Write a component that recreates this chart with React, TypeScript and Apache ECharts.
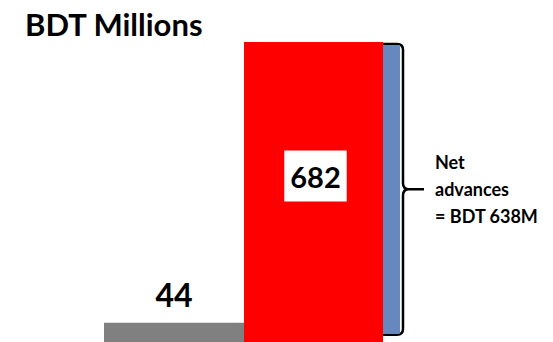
import React, { useEffect, useRef } from "react";
import * as echarts from "echarts";

const categories = ["Advances"];
const grayValues = [44];
const redValues = [682];
const blueBase = [19];
const blueValues = [656];
const netLines = ["Net", "advances", "= BDT 638M"];
const titleText = "BDT Millions";

const NUM_FONT = "Lato, 'Noto Sans', sans-serif";
const TXT_FONT = "Lato, 'Noto Sans', sans-serif";

export default function App() {
  const ref = useRef<HTMLDivElement>(null);
  useEffect(() => {
    const chart = echarts.init(ref.current!, null, { renderer: "svg" });
    chart.setOption({
      animation: false,
      grid: { left: 0, top: 42, width: 504, height: 302.5 },
      xAxis: { type: "category", data: categories, show: false },
      yAxis: { type: "value", min: 0, max: 682, show: false },
      series: [
        {
          type: "bar",
          stack: "g",
          data: grayValues,
          barWidth: 140,
          barGap: "0%",
          itemStyle: { color: "#808080" },
          label: {
            show: true,
            position: "top",
            distance: 12,
            fontFamily: NUM_FONT,
            fontWeight: "bold",
            fontSize: 32,
            lineHeight: 32,
            color: "#000",
          },
        },
        {
          type: "bar",
          stack: "r",
          data: redValues,
          barWidth: 139,
          barGap: "0%",
          itemStyle: { color: "#FF0000" },
          label: {
            show: true,
            position: "inside",
            offset: [2, -16],
            fontFamily: NUM_FONT,
            fontWeight: "bold",
            fontSize: 29,
            lineHeight: 29,
            color: "#000",
            backgroundColor: "#FFFFFF",
            padding: [11, 6, 11, 6],
          },
        },
        {
          type: "bar",
          stack: "b",
          data: blueBase,
          barWidth: 17,
          barGap: "0%",
          silent: true,
          itemStyle: { color: "rgba(0,0,0,0)" },
        },
        {
          type: "bar",
          stack: "b",
          data: blueValues,
          barWidth: 17,
          barGap: "0%",
          itemStyle: { color: "#6787BF" },
        },
      ],
    });

    const yTop = chart.convertToPixel({ yAxisIndex: 0 }, blueBase[0] + blueValues[0]) as number;
    const yBot = chart.convertToPixel({ yAxisIndex: 0 }, blueBase[0]) as number;
    const yMid = (yTop + yBot) / 2;
    const x0 = 383;
    const xv = 403;
    const xt = 424;
    const d =
      `M${x0},${yTop - 1} L${xv - 6},${yTop - 1} Q${xv},${yTop - 1} ${xv},${yTop + 5} ` +
      `L${xv},${yMid - 6} Q${xv},${yMid} ${xv + 6},${yMid} L${xt},${yMid} ` +
      `M${xv + 6},${yMid} Q${xv},${yMid} ${xv},${yMid + 6} ` +
      `L${xv},${yBot - 5} Q${xv},${yBot + 1} ${xv - 6},${yBot + 1} L${x0},${yBot + 1}`;
    echarts.graphic.registerShape("brace", echarts.graphic.extendPath(d, {}));

    chart.setOption({
      graphic: [
        {
          type: "brace",
          x: 0,
          y: 0,
          style: { fill: "none", stroke: "#000", lineWidth: 2.5 },
          silent: true,
        },
        {
          type: "text",
          x: 25,
          y: 24,
          style: {
            text: titleText,
            fontFamily: TXT_FONT,
            fontWeight: "bold",
            fontSize: 31,
            fill: "#000",
            align: "left",
            verticalAlign: "middle",
            textAlign: "left",
            textVerticalAlign: "middle",
          },
        },
        {
          type: "text",
          x: 435,
          y: yMid,
          style: {
            text: netLines.join("\n"),
            fontFamily: TXT_FONT,
            fontWeight: "bold",
            fontSize: 18,
            lineHeight: 27,
            fill: "#000",
            align: "left",
            verticalAlign: "middle",
            textAlign: "left",
            textVerticalAlign: "middle",
          },
        },
      ],
    });
    return () => chart.dispose();
  }, []);
  return (
    <div
      ref={ref}
      style={{ position: "fixed", left: 0, top: 0, width: 553, height: 342, background: "#fff" }}
    />
  );
}
